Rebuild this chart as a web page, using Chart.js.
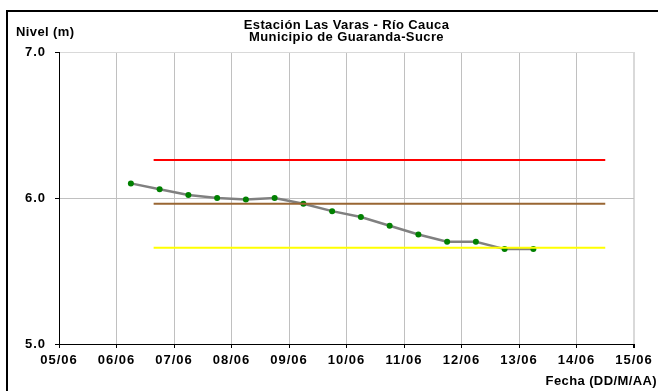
<!DOCTYPE html>
<html>
<head>
<meta charset="utf-8">
<script src="https://cdn.jsdelivr.net/npm/chart.js@4"></script>
<style>
html,body{margin:0;padding:0;background:#fff;}
#c{display:block;}
</style>
</head>
<body>
<canvas id="c" width="658" height="391"></canvas>
<script>
// ---- Data ----
const fechas = ['06/06 06:00','06/06 18:00','07/06 06:00','07/06 18:00','08/06 06:00','08/06 18:00',
  '09/06 06:00','09/06 18:00','10/06 06:00','10/06 18:00','11/06 06:00','11/06 18:00',
  '12/06 06:00','12/06 18:00','13/06 06:00'];
const niveles = [6.10, 6.06, 6.02, 6.00, 5.99, 6.00, 5.96, 5.91, 5.87, 5.81, 5.75, 5.70, 5.70, 5.65, 5.65];
const umbralFechas = ['06/06 15:30', '14/06 12:00'];
const nivelRojo = 6.26;
const nivelMarron = 5.96;
const nivelAmarillo = 5.66;
const xTickLabels = ['05/06','06/06','07/06','08/06','09/06','10/06','11/06','12/06','13/06','14/06','15/06'];
const yTickLabels = ['5.0','6.0','7.0'];
const titulo = ['Estación Las Varas - Río Cauca', 'Municipio de Guaranda-Sucre'];
const ejeY = 'Nivel (m)';
const ejeX = 'Fecha (DD/M/AA)';

function dia(s) {
  const [d, t] = s.split(' ');
  const dd = parseInt(d.split('/')[0], 10);
  const [h, m] = t.split(':').map(Number);
  return dd + (h + m / 60) / 24;
}
const serie = fechas.map((f, i) => ({x: dia(f), y: niveles[i]}));
const umbral = v => umbralFechas.map(f => ({x: dia(f), y: v}));

const FONT = '"Liberation Sans", Arial, sans-serif';

const extras = {
  id: 'extras',
  beforeDraw(chart) { chart.ctx.letterSpacing = '1px'; },
  afterDraw(chart) {
    const ctx = chart.ctx;
    ctx.save();
    ctx.fillStyle = '#000';
    ctx.letterSpacing = '0.4px';
    ctx.font = 'bold 13px ' + FONT;
    ctx.textBaseline = 'middle';
    ctx.textAlign = 'center';
    const cx = (chart.chartArea.left + chart.chartArea.right) / 2;
    ctx.fillText(titulo[0], cx, 25);
    ctx.fillText(titulo[1], cx, 37);
    ctx.textAlign = 'left';
    ctx.fillText(ejeY, 16, 32);
    ctx.textAlign = 'right';
    ctx.fillText(ejeX, 657, 381);
    ctx.strokeStyle = '#000';
    ctx.lineWidth = 2;
    ctx.strokeRect(7, 11, 700, 500);
    ctx.restore();
  }
};

const tickFont = {family: FONT, size: 13, weight: 'bold'};

new Chart(document.getElementById('c'), {
  type: 'line',
  data: {
    datasets: [
      {data: umbral(nivelRojo), borderColor: '#ff0000', borderWidth: 2, pointRadius: 0},
      {data: umbral(nivelMarron), borderColor: '#996633', borderWidth: 2, pointRadius: 0},
      {data: umbral(nivelAmarillo), borderColor: '#ffff00', borderWidth: 2, pointRadius: 0},
      {data: serie, borderColor: '#808080', borderWidth: 2.5, pointRadius: 3,
       pointBackgroundColor: '#008000', pointBorderColor: '#008000', pointBorderWidth: 0}
    ]
  },
  options: {
    responsive: false,
    devicePixelRatio: 1,
    animation: false,
    layout: {padding: {top: 52, right: 24, left: 0, bottom: 0}},
    plugins: {legend: {display: false}, tooltip: {enabled: false}, title: {display: false}},
    scales: {
      x: {
        type: 'linear', min: 5, max: 15,
        ticks: {stepSize: 1, color: '#000', font: tickFont, padding: 5, maxRotation: 0,
          callback: v => xTickLabels[Math.round(v - 5)]},
        grid: {
          color: c => c.tick && c.tick.value === 15 ? '#d9d9d9' : '#c0c0c0',
          lineWidth: c => c.tick && c.tick.value === 15 ? 2 : 1,
          tickColor: '#000', tickLength: 4
        },
        border: {color: '#000', width: 1},
        afterFit: s => { s.height = 47; }
      },
      y: {
        min: 5, max: 7,
        ticks: {stepSize: 1, color: '#000', font: tickFont, padding: 9,
          callback: v => yTickLabels[Math.round(v - 5)]},
        grid: {
          color: c => c.tick && c.tick.value === 7 ? '#d9d9d9' : '#c0c0c0',
          lineWidth: 1,
          tickColor: '#000', tickLength: 4
        },
        border: {color: '#000', width: 1},
        afterFit: s => { s.width = 59; }
      }
    }
  },
  plugins: [extras]
});
</script>
</body>
</html>
